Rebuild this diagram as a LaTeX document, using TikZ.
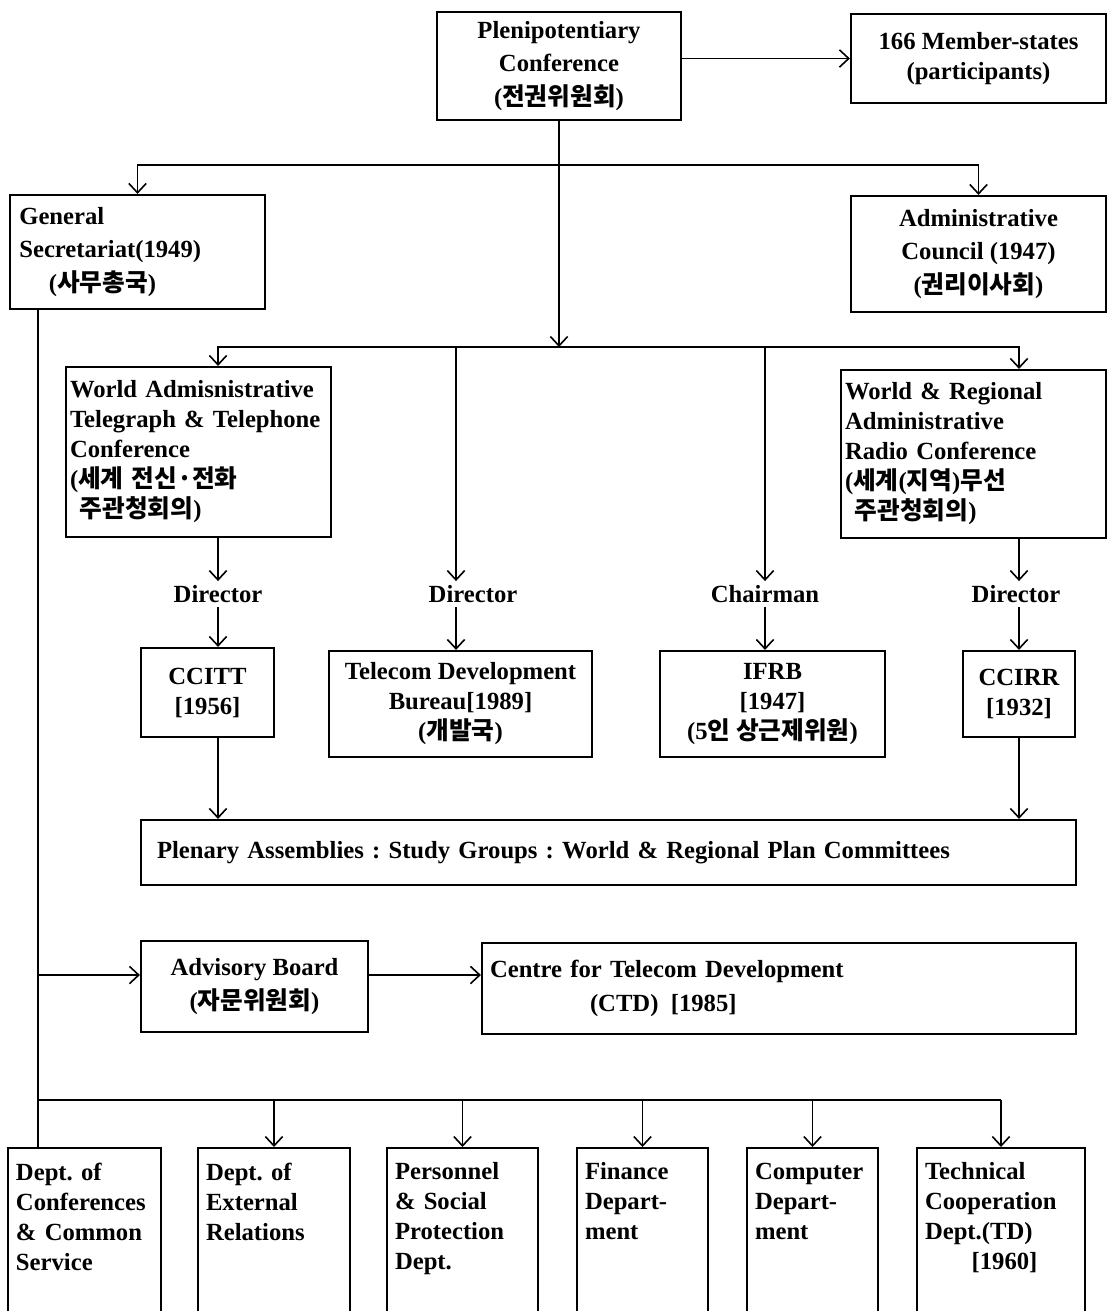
\documentclass[tikz,border=0pt]{standalone}
\usepackage{fontspec}
\setmainfont{Liberation Serif}
\newfontfamily\krfont{Noto Sans CJK KR}[Scale=1.0]
\usetikzlibrary{arrows.meta}
\newcommand{\kor}[1]{{\krfont #1}}

\tikzset{
  box/.style={draw, line width=1.6pt, inner sep=5pt},
  loose/.style={font=\fontsize{18.5}{25}\selectfont\bfseries},
  conn/.style={line width=1.2pt},
  arr/.style={conn, -{Straight Barb[length=7pt,width=13pt]}},
  twoarr/.style={conn, {Straight Barb[length=7pt,width=13pt]}-{Straight Barb[length=7pt,width=13pt]}},
  lbl/.style={inner sep=3pt},
  dept/.style={box, anchor=north, align=left, inner xsep=6pt, inner ysep=11pt, text depth=150pt},
}

\begin{document}
\frenchspacing
\begin{tikzpicture}[x=0.75pt,y=0.75pt,yscale=-1,xscale=1,
  font=\fontsize{18.5}{22.5}\selectfont\bfseries]
\fill[white] (0,0) rectangle (1108,1311);
\useasboundingbox (0,0) rectangle (1108,1311);

%Rows and columns of the connectors
\coordinate (rowA) at (0,165);
\coordinate (rowB) at (0,347);
\coordinate (rowC) at (0,975);
\coordinate (rowD) at (0,1100);
\coordinate (colL) at (38,0);
\coordinate (colA) at (218,0);
\coordinate (colB) at (456,0);
\coordinate (colC) at (765,0);
\coordinate (colD) at (1019,0);

%Shape: top boxes
\node[box, loose, align=center, minimum width=183pt, minimum height=81pt] (plen) at (559,66)
  {Plenipotentiary\\Conference\\(\kor{전권위원회})};
\node[box, align=center, minimum width=191.25pt, minimum height=66.75pt] (memb) at (978.5,58.5)
  {166 Member-states\\(participants)};
\node[box, loose, align=left, inner xsep=7pt, text width=177.25pt, minimum height=85.5pt] (gensec) at (137.5,252)
  {General\\Secretariat(1949)\\\hspace*{1.2em}(\kor{사무총국})};
\node[box, loose, align=center, minimum width=191.25pt, minimum height=87pt] (admin) at (978.5,254)
  {Administrative\\Council (1947)\\(\kor{권리이사회})};

%Shape: conferences
\node[box, align=left, inner xsep=3pt, text width=192.75pt, minimum height=127.5pt] (wattc) at (198.5,452)
  {World Admisnistrative\\Telegraph \& Telephone\\Conference\\(\kor{세계 전신·전화}\\\hspace*{0.4em}\kor{주관청회의})};
\node[box, align=left, inner xsep=3pt, text width=192.75pt, minimum height=126pt] (wrarc) at (973.5,454)
  {World \& Regional\\Administrative\\Radio Conference\\(\kor{세계}(\kor{지역})\kor{무선}\\\hspace*{0.4em}\kor{주관청회의})};

% Text Node
\node[lbl] (dirA) at (218,594) {Director};
\node[lbl] (dirB) at (473,594) {Director};
\node[lbl] (chair) at (765,594) {Chairman};
\node[lbl] (dirD) at (1016,594) {Director};

%Shape: bureaus
\node[box, align=center, minimum width=99.75pt, minimum height=66.75pt] (ccitt) at (207.5,692.5)
  {CCITT\\{[1956]}};
\node[box, align=center, minimum width=197.25pt, minimum height=79.5pt] (tdb) at (460.5,704)
  {Telecom Development\\Bureau{[1989]}\\(\kor{개발국})};
\node[box, align=center, minimum width=168.75pt, minimum height=79.5pt] (ifrb) at (772.5,704)
  {IFRB\\{[1947]}\\(5\kor{인 상근제위원})};
\node[box, align=center, minimum width=84pt, minimum height=64.5pt] (ccirr) at (1019,694)
  {CCIRR\\{[1932]}};

\node[box, align=left, inner xsep=12pt, text width=677.25pt, minimum height=48.75pt] (plenary) at (608.5,852.5)
  {Plenary Assemblies : Study Groups : World \& Regional Plan Committees};

\node[box, loose, align=center, minimum width=170.25pt, minimum height=68.25pt] (advis) at (254.5,986.5)
  {Advisory Board\\(\kor{자문위원회})};
\node[box, loose, align=left, inner xsep=6pt, text width=433.5pt, minimum height=68.25pt] (ctd) at (779,988.5)
  {Centre for Telecom Development\\\hspace*{75pt}(CTD)\enspace{[1985]}};

%Shape: departments
\node[dept, text width=102.75pt] (d1) at (84.5,1147) {Dept. of\\Conferences\\\& Common\\Service};
\node[dept, text width=102pt] (d2) at (274,1147) {Dept. of\\External\\Relations};
\node[dept, text width=101.25pt] (d3) at (462.5,1147) {Personnel\\\& Social\\Protection\\Dept.};
\node[dept, text width=86.25pt] (d4) at (642.5,1147) {Finance\\Depart-\\ment};
\node[dept, text width=86.25pt] (d5) at (812.5,1147) {Computer\\Depart-\\ment};
\node[dept, text width=114pt] (d6) at (1001,1147) {Technical\\Cooperation\\Dept.(TD)\\\hspace*{35pt}[1960]};

%Straight Lines
\draw[arr] (memb.west -| plen.east) -- (memb.west);
\draw[arr] (plen.south) -- (plen.south |- rowB);
\draw[twoarr] (gensec.north) |- (admin.north |- rowA) -- (admin.north);
\draw[twoarr] (wattc.north -| colA) |- (colD |- rowB) -- (wrarc.north -| colD);
\draw[arr] (colB |- rowB) -- (dirB.north -| colB);
\draw[arr] (colC |- rowB) -- (chair.north -| colC);

\draw[arr] (wattc.south -| colA) -- (dirA.north -| colA);
\draw[arr] (dirA.south -| colA) -- (ccitt.north -| colA);
\draw[arr] (dirB.south -| colB) -- (tdb.north -| colB);
\draw[arr] (chair.south -| colC) -- (ifrb.north -| colC);
\draw[arr] (wrarc.south -| colD) -- (dirD.north -| colD);
\draw[arr] (dirD.south -| colD) -- (ccirr.north -| colD);
\draw[arr] (ccitt.south -| colA) -- (plenary.north -| colA);
\draw[arr] (ccirr.south -| colD) -- (plenary.north -| colD);

%Secretariat trunk
\draw[conn] (gensec.south -| colL) -- (d1.north -| colL);
\draw[arr] (colL |- rowC) -- (advis.west |- rowC);
\draw[arr] (advis.east |- rowC) -- (ctd.west |- rowC);
\draw[conn] (colL |- rowD) -- (d6.north |- rowD);
\foreach \d in {d2,d3,d4,d5,d6}
  \draw[arr] (\d.north |- rowD) -- (\d.north);

\end{tikzpicture}
\end{document}
